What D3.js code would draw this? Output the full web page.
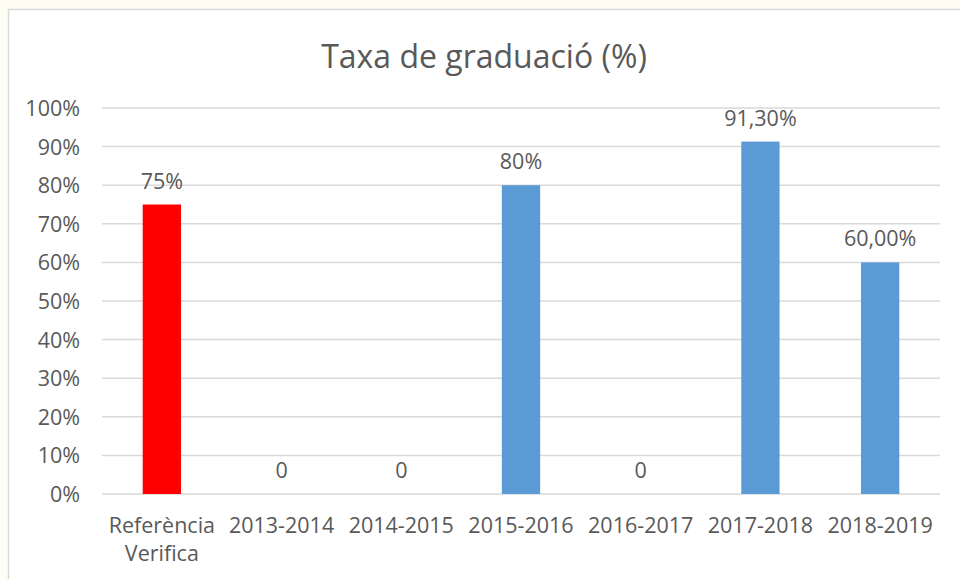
<!DOCTYPE html>
<html>
<head>
<meta charset="utf-8">
<script src="https://cdn.jsdelivr.net/npm/d3@7"></script>
<style>
  html, body { margin: 0; padding: 0; background: #fdfdf4; }
  svg { display: block; }
  text { font-family: "Open Sans", "Liberation Sans", sans-serif; fill: #595959; }
</style>
</head>
<body>
<script>
const categories = [["Referència", "Verifica"], ["2013-2014"], ["2014-2015"], ["2015-2016"], ["2016-2017"], ["2017-2018"], ["2018-2019"]];
const values = [75, 0, 0, 80, 0, 91.3, 60];
const valueLabels = ["75%", "0", "0", "80%", "0", "91,30%", "60,00%"];
const barColors = ["#ff0000", "#5b9bd5", "#5b9bd5", "#5b9bd5", "#5b9bd5", "#5b9bd5", "#5b9bd5"];
const yTicks = [0, 10, 20, 30, 40, 50, 60, 70, 80, 90, 100];
const title = "Taxa de graduació (%)";

(function () {
const W = 960, H = 579;
const fs = 21.5;
const svg = d3.select("body").append("svg").attr("width", W).attr("height", H);

svg.append("rect").attr("x", 0).attr("y", 0).attr("width", W).attr("height", H).attr("fill", "#fdfdf4");
svg.append("rect").attr("x", 8.5).attr("y", 9.5).attr("width", 970).attr("height", 600)
  .attr("fill", "#ffffff").attr("stroke", "#d9d9d9").attr("stroke-width", 1.5);

const pLeft = 102, pRight = 940, pTop = 108, pBottom = 494;
const x = d3.scaleBand().domain(d3.range(categories.length)).range([pLeft, pRight]).paddingInner(0.68).paddingOuter(0.34);
const y = d3.scaleLinear().domain([0, 100]).range([pBottom, pTop]);

// gridlines
svg.append("g").selectAll("line").data(yTicks).join("line")
  .attr("x1", pLeft).attr("x2", pRight)
  .attr("y1", d => y(d)).attr("y2", d => y(d))
  .attr("stroke", "#d9d9d9").attr("stroke-width", 1.5);

// y axis labels
const yAxis = d3.axisLeft(y).tickValues(yTicks).tickFormat(d => d + "%").tickSize(0).tickPadding(0);
const gy = svg.append("g").attr("transform", `translate(${pLeft - 22},0)`).call(yAxis);
gy.select(".domain").remove();
gy.selectAll("text").attr("font-size", fs).attr("fill", "#595959")
  .attr("font-family", "'Open Sans', sans-serif").attr("dy", "0.35em");

// bars
svg.append("g").selectAll("rect").data(values).join("rect")
  .attr("x", (d, i) => x(i)).attr("width", x.bandwidth())
  .attr("y", d => y(d)).attr("height", d => pBottom - y(d))
  .attr("fill", (d, i) => barColors[i]);

// value labels
svg.append("g").selectAll("text").data(values).join("text")
  .attr("x", (d, i) => x(i) + x.bandwidth() / 2)
  .attr("y", d => y(d) - 16)
  .attr("text-anchor", "middle").attr("font-size", fs)
  .text((d, i) => valueLabels[i]);

// x labels
const gx = svg.append("g");
categories.forEach((lines, i) => {
  const t = gx.append("text")
    .attr("x", x(i) + x.bandwidth() / 2).attr("y", 533)
    .attr("text-anchor", "middle").attr("font-size", fs);
  lines.forEach((ln, j) => {
    t.append("tspan").attr("x", x(i) + x.bandwidth() / 2).attr("dy", j === 0 ? 0 : 28).text(ln);
  });
});

// title
svg.append("text").attr("x", 484).attr("y", 68).attr("text-anchor", "middle")
  .attr("font-size", 32).text(title);
})();
</script>
</body>
</html>
